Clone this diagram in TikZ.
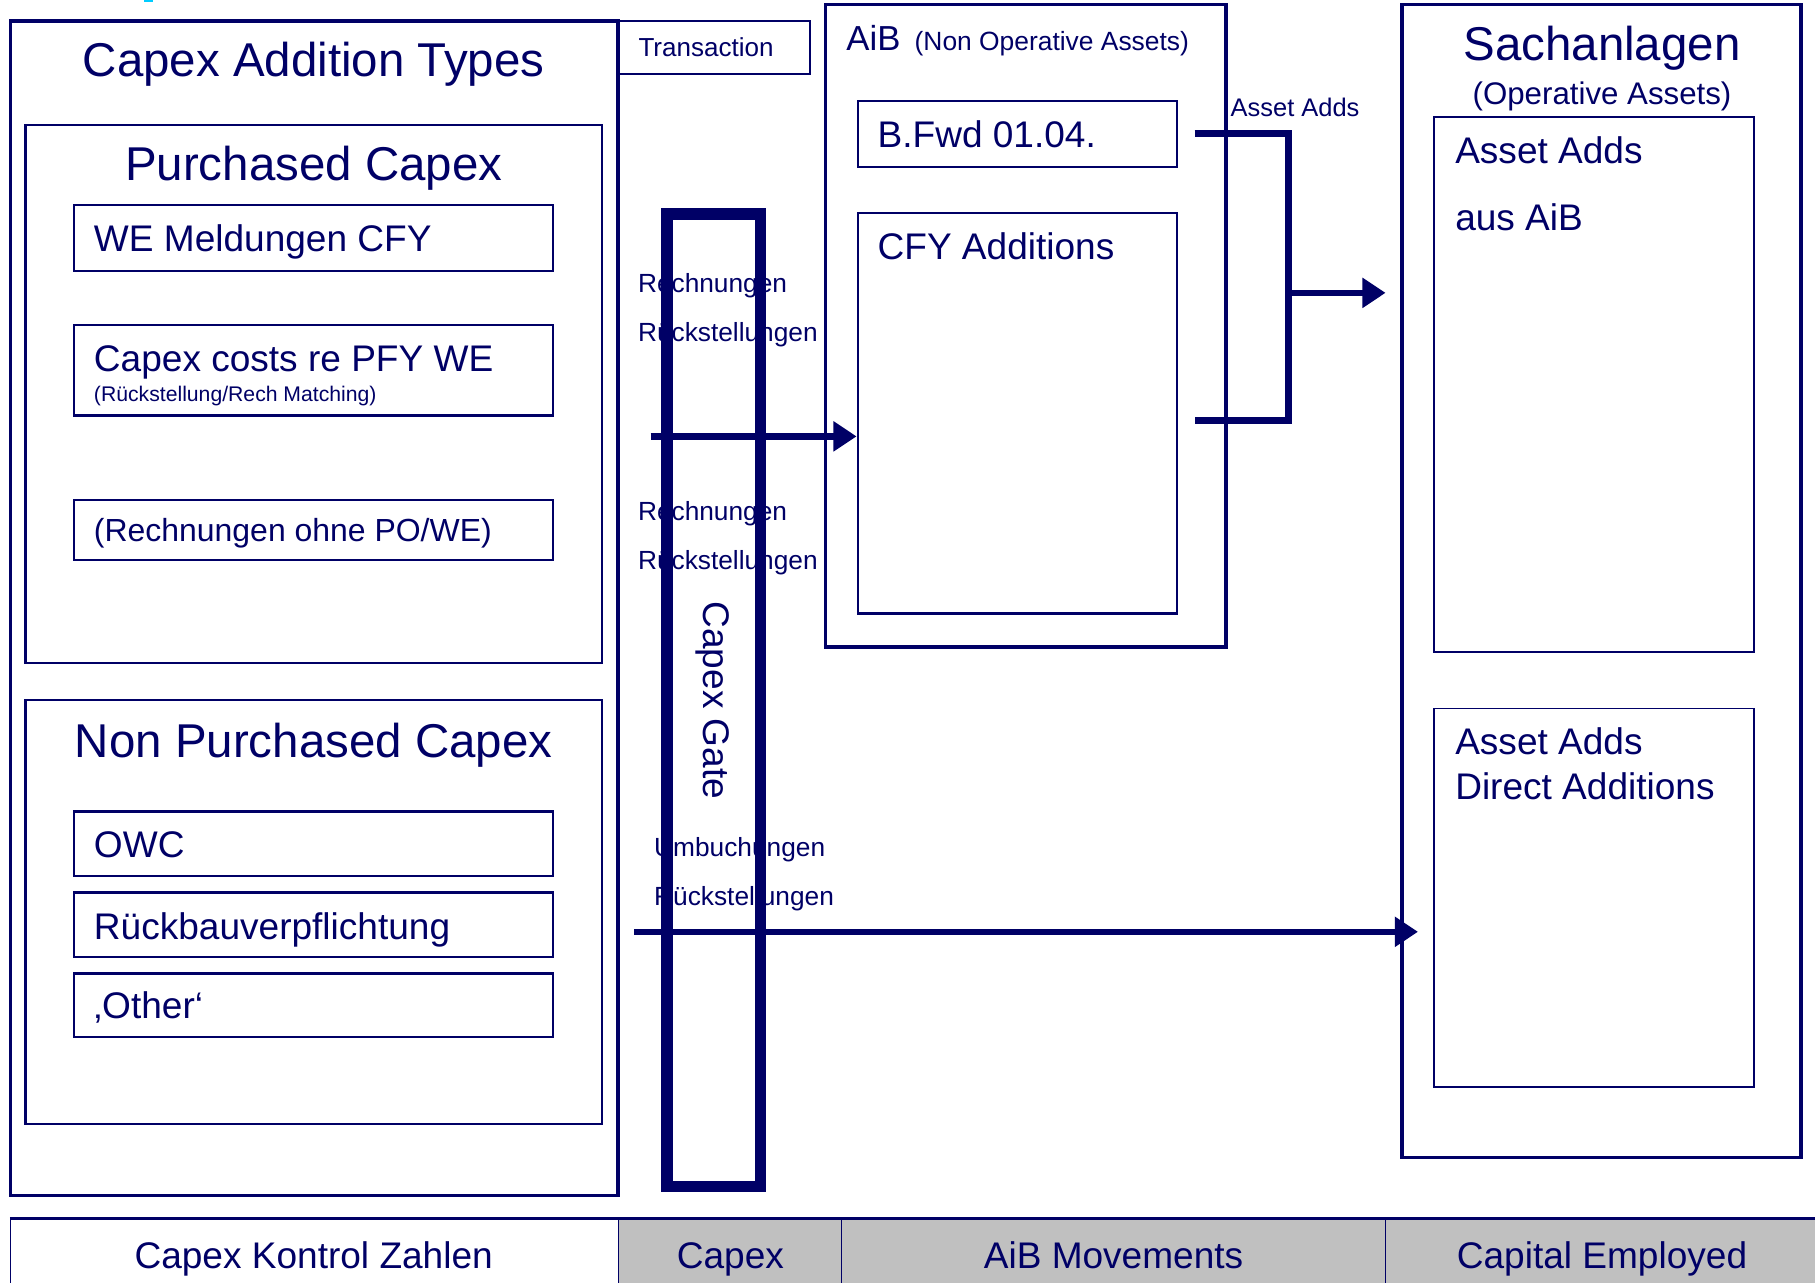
\documentclass[tikz,border=0pt]{standalone}
\usepackage{fontspec}
\setmainfont{Liberation Sans}
\usetikzlibrary{arrows.meta,fit,calc}
\definecolor{navy}{RGB}{0,0,102}
\definecolor{cellgray}{RGB}{192,192,192}
\definecolor{markcyan}{RGB}{0,204,255}
\newcommand{\fsz}[1]{\fontsize{#1}{#1}\selectfont}
\begin{document}
\begin{tikzpicture}[x=1pt,y=-1pt,
  bigbox/.style={draw=navy,inner sep=0pt,line width=3pt},
  midbox/.style={draw=navy,inner sep=0pt,line width=2pt},
  thinbox/.style={draw=navy,inner sep=0pt,line width=1.5pt},
  txt/.style={text=navy,inner sep=0pt,anchor=base west},
  ctxt/.style={text=navy,inner sep=0pt,anchor=base},
  flow/.style={draw=navy,line width=5.5pt,-{Triangle[length=20pt,width=25pt]}},
  brk/.style={draw=navy,line width=6pt,line join=miter},
  cell/.style={draw=navy,inner sep=0pt,line width=1pt},
]
\useasboundingbox (0,0) rectangle (1568,1108);
\fill[markcyan] (124,0) rectangle (132,2);

% ---------- left: Capex Addition Types ----------
\node[bigbox,fit={(9,18) (534,1033)}] (cat) {};
\node[ctxt,font={\fsz{41}}] (tcat) at (271,66) {Capex Addition Types};

\node[midbox,fit={(22,108) (520,573)}] (pc) {};
\node[ctxt,font={\fsz{41}}] (tpc) at (271,156) {Purchased Capex};
\node[midbox,fit={(64,177) (478,234)}] (we) {};
\node[txt,font={\fsz{32}}] (twe) at (81,217.5) {WE Meldungen CFY};
\node[midbox,fit={(64,281) (478,359)}] (pfy) {};
\node[txt,font={\fsz{32}}] (tpfy) at (81,321) {Capex costs re PFY WE};
\node[txt,font={\fsz{18.3}}] (tpfy2) at (81,346.5) {(Rückstellung/Rech Matching)};
\node[midbox,fit={(64,432) (478,484)}] (ohne) {};
\node[txt,font={\fsz{27.6}}] (tohne) at (81,468) {(Rechnungen ohne PO/WE)};

\node[midbox,fit={(22,605) (520,971)}] (npc) {};
\node[ctxt,font={\fsz{41}}] (tnpc) at (271,654) {Non Purchased Capex};
\node[midbox,fit={(64,701) (478,757)}] (owc) {};
\node[txt,font={\fsz{32}}] (towc) at (81,740.5) {OWC};
\node[midbox,fit={(64,771) (478,827)}] (rbv) {};
\node[txt,font={\fsz{32}}] (trbv) at (81,811.5) {Rückbauverpflichtung};
\node[midbox,fit={(64,841) (478,896)}] (oth) {};
\node[txt,font={\fsz{32}}] (toth) at (81,879.5) {‚Other‘};

% ---------- Transaction ----------
\node[thinbox,fit={(535,18) (700,64)}] (trans) {};
\node[ctxt,font={\fsz{22.5}}] (ttrans) at (610,49) {Transaction};

% ---------- gate labels ----------
\node[txt,font={\fsz{22.7}}] (l1) at (551,253) {Rechnungen};
\node[txt,font={\fsz{22.7}}] (l2) at (551,295) {Rückstellungen};
\node[txt,font={\fsz{22.7}}] (l3) at (551,450) {Rechnungen};
\node[txt,font={\fsz{22.7}}] (l4) at (551,492) {Rückstellungen};
\node[txt,font={\fsz{22.7}}] (l5) at (565,740) {Umbuchungen};
\node[txt,font={\fsz{22.7}}] (l6) at (565,782) {Rückstellungen};

% ---------- Capex Gate ----------
\node[draw=navy,line width=10pt,inner sep=0pt,fit={(576,185) (657,1025)}] (gate) {};
\node[text=navy,rotate=-90,font={\fsz{32}},inner sep=0pt] (tgate) at (616,605) {Capex Gate};

% ---------- AiB ----------
\node[bigbox,fit={(713,4) (1059,559)}] (aib) {};
\node[txt,font={\fsz{30}}] (taib) at (731,44) {AiB};
\node[txt,font={\fsz{22.8}}] (taib2) at (790,44) {(Non Operative Assets)};
\node[midbox,fit={(741,87) (1017,144)}] (bfwd) {};
\node[txt,font={\fsz{32}}] (tbfwd) at (758,127.5) {B.Fwd 01.04.};
\node[midbox,fit={(741,184) (1017,530)}] (cfy) {};
\node[txt,font={\fsz{32}}] (tcfy) at (758,224.5) {CFY Additions};

% ---------- Sachanlagen ----------
\node[bigbox,fit={(1211,4) (1556,1000)}] (sach) {};
\node[ctxt,font={\fsz{41}}] (tsach) at (1384,52.5) {Sachanlagen};
\node[ctxt,font={\fsz{27}}] (tsach2) at (1384,90) {(Operative Assets)};
\node[thinbox,fit={(1239,101) (1515,563)}] (adds1) {};
\node[txt,font={\fsz{32}}] (tadds1) at (1257,141) {Asset Adds};
\node[txt,font={\fsz{32}}] (tadds1b) at (1257,199) {aus AiB};
\node[thinbox,fit={(1239,612) (1515,939)}] (adds2) {};
\node[txt,font={\fsz{32}}] (tadds2) at (1257,652) {Asset Adds};
\node[txt,font={\fsz{32}}] (tadds2b) at (1257,691) {Direct Additions};

% ---------- connectors ----------
\coordinate (a1s) at (562,377);
\draw[flow] (a1s) -- (a1s -| cfy.west);
\coordinate (a2s) at (548,805);
\coordinate (a2e) at (1225,805);
\draw[flow] (a2s) -- (a2e);

\coordinate (bt) at (1032,115);
\coordinate (bb) at (1032,363);
\coordinate (bm) at (1113,253);
\coordinate (be) at (1197,253);
\draw[brk] (bt) -| (bm |- bb) -- (bb);
\draw[flow] (bm) -- (be);
\node[txt,font={\fsz{22}}] (tadds) at (1063,100.5) {Asset Adds};

% ---------- bottom bar ----------
\node[cell,fill=white,fit={(9,1053) (534,1125)}] (c1) {};
\node[cell,fill=cellgray,fit={(534,1053) (727,1125)}] (c2) {};
\node[cell,fill=cellgray,fit={(727,1053) (1197,1125)}] (c3) {};
\node[cell,fill=cellgray,fit={(1197,1053) (1575,1125)}] (c4) {};
\draw[navy,line width=3pt] (c1.north west) -- (c4.north east);
\node[ctxt,font={\fsz{32}}] (tc1) at (271,1095.5) {Capex Kontrol Zahlen};
\node[ctxt,font={\fsz{32}}] (tc2) at (631,1095.5) {Capex};
\node[ctxt,font={\fsz{32}}] (tc3) at (962,1095.5) {AiB Movements};
\node[ctxt,font={\fsz{32}}] (tc4) at (1384,1095.5) {Capital Employed};
\end{tikzpicture}
\end{document}
